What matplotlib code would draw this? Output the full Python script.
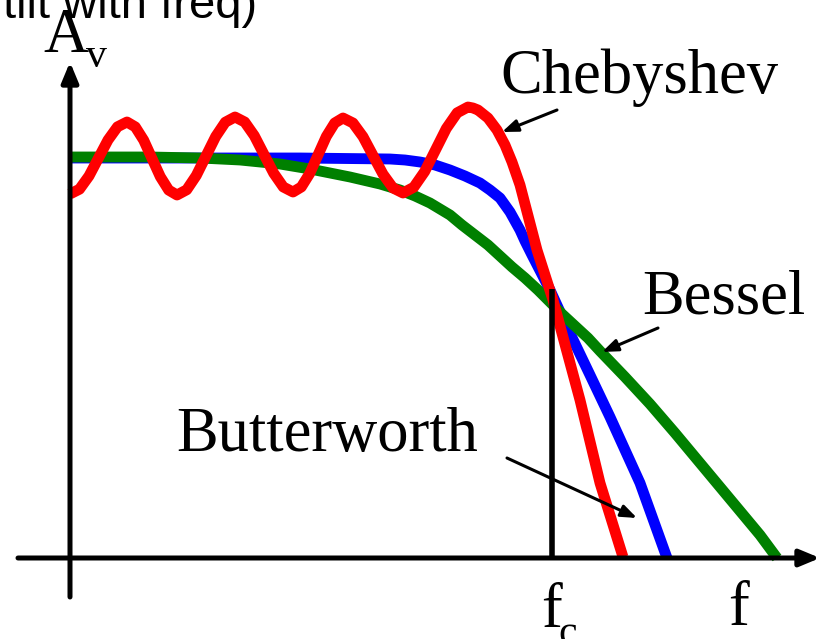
"""Sketch of filter responses: Chebyshev, Butterworth and Bessel low-pass
amplitude vs frequency, with the cut-off frequency f_c marked.
"""

import matplotlib.pyplot as plt

# %% curves (f along the axis, A_v above the f axis)
# Chebyshev: four ripples in the pass band, then a steep drop
cheb_f = [0, 9.5, 19, 28.5, 38, 47.5, 57,
          65.3, 73.7, 82, 90.3, 98.7, 107,
          116.7, 126.3, 136, 145.7, 155.3, 165,
          174.7, 184.3, 194, 203.7, 213.3, 223,
          231.3, 239.7, 248, 256.3, 264.7, 273,
          283, 293, 303, 313, 323, 333,
          343.8, 354.7, 365.5, 376.3, 387.2, 398,
          403, 408, 418, 427, 435, 442, 450, 467, 483, 510, 530, 553]
cheb_a = [364, 368.8, 382, 400, 418, 431.2, 436,
          431.1, 417.8, 399.5, 381.3, 367.9, 363,
          368.2, 382.5, 402, 421.5, 435.8, 441,
          436, 422.3, 403.5, 384.8, 371, 366,
          371, 384.5, 403, 421.5, 435, 440,
          435, 421.3, 402.5, 383.8, 370, 365,
          370.8, 386.5, 408, 429.5, 445.2, 451,
          450, 448, 440, 428, 413, 396, 373, 308, 258, 158, 75, 1]

butter_f = [0, 130, 230, 320, 335, 350, 365, 380, 395, 410, 420, 430, 435,
            440, 445, 450, 455, 462, 480, 497, 520, 540, 570, 597]
butter_a = [400, 400, 400, 399, 398, 396, 393, 388, 382, 375, 368, 360, 353,
            346, 337, 328, 317, 303, 268, 231, 183, 141, 75, 0]

bessel_f = [0, 80, 130, 170, 210, 240, 280, 310, 330, 345, 360, 380, 392,
            405, 418, 430, 442, 455, 468, 480, 492, 505, 518, 530, 555, 580,
            605, 630, 650, 670, 690, 707]
bessel_a = [401, 401, 400, 398, 394, 389, 381, 374, 368, 362, 355, 343, 333,
            323, 313, 302, 291, 280, 268, 256, 244, 232, 220, 207, 181, 154,
            125, 95, 71, 47, 23, 0]

f_c = 482        # cut-off frequency
f_c_top = 269    # height of the f_c marker line

serif = 'Liberation Serif'
big = 45  # size of the labels

fig = plt.figure(figsize=(8.23, 6.39), dpi=100)
ax = fig.add_axes([0, 0, 1, 1])
ax.set_xlim(-70, 753)
ax.set_ylim(-81, 558)
ax.axis('off')

# axes with arrow heads
axis_arrow = dict(arrowstyle='-|>,head_length=0.6,head_width=0.25',
                  color='k', lw=3.6, mutation_scale=20, shrinkA=0, shrinkB=0)
ax.annotate('', xy=(750, 0), xytext=(-52, 0), arrowprops=axis_arrow)
ax.annotate('', xy=(0, 496), xytext=(0, -39), arrowprops=axis_arrow)

# the three responses
lw = 7.8
style = dict(lw=lw, solid_capstyle='butt', solid_joinstyle='round')
ax.plot(butter_f, butter_a, color='blue', **style)
ax.plot(bessel_f, bessel_a, color='green', **style)
ax.plot(cheb_f, cheb_a, color='red', **style)

# cut-off marker
ax.plot([f_c, f_c], [0, f_c_top], color='k', lw=4, solid_capstyle='butt')

# labels with pointers
pointer = dict(arrowstyle='-|>,head_length=0.47,head_width=0.18',
               color='k', lw=2.2, mutation_scale=20, shrinkA=0, shrinkB=0)
ax.annotate('', xy=(432, 426), xytext=(487, 448), arrowprops=pointer)
ax.annotate('', xy=(532, 206), xytext=(588, 230), arrowprops=pointer)
ax.annotate('', xy=(567, 40), xytext=(437, 100), arrowprops=pointer)

ax.text(430, 465, 'Chebyshev', family=serif, fontsize=big, va='baseline')
ax.text(572, 245, 'Bessel', family=serif, fontsize=big, va='baseline')
ax.text(106, 107, 'Butterworth', family=serif, fontsize=big, va='baseline')

# axis names
ax.text(-27, 506, 'A', family=serif, fontsize=big, va='baseline')
ax.text(16, 491, 'v', family=serif, fontsize=30, va='baseline')
ax.text(471, -69, 'f', family=serif, fontsize=big, va='baseline')
ax.text(488, -86, 'c', family=serif, fontsize=30, va='baseline')
ax.text(658, -67, 'f', family=serif, fontsize=big, va='baseline')

# title left over from the slide, cut by the top edge
ax.text(187, 540, 'tilt with freq)', family='Liberation Sans', fontsize=34,
        ha='right', va='baseline')

plt.savefig('out.png', dpi=100)
